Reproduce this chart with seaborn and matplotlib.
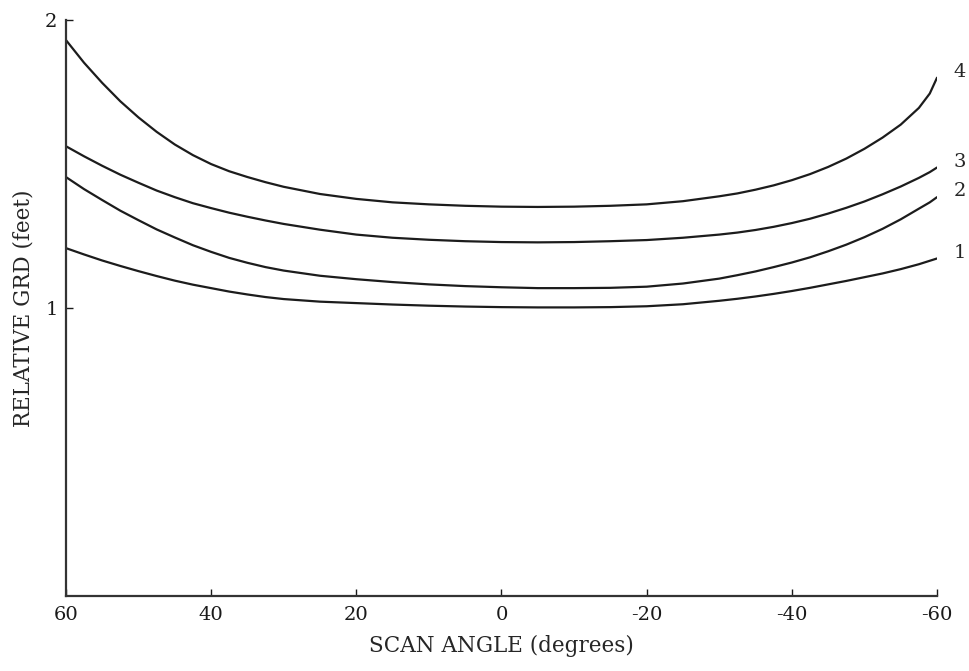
import numpy as np
import pandas as pd
import matplotlib
matplotlib.use("Agg")
import matplotlib.pyplot as plt
import seaborn as sns

angles = [60, 57.5, 55, 52.5, 50, 47.5, 45, 42.5, 40, 37.5, 35, 32.5, 30, 25, 20,
          15, 10, 5, 0, -5, -10, -15, -20, -25, -30, -32.5, -35, -37.5, -40,
          -42.5, -45, -47.5, -50, -52.5, -55, -57.5, -59, -60]

curve_1 = [1.208, 1.186, 1.165, 1.146, 1.128, 1.111, 1.095, 1.081, 1.069, 1.057,
           1.047, 1.038, 1.031, 1.022, 1.017, 1.012, 1.008, 1.005, 1.003, 1.002,
           1.002, 1.003, 1.006, 1.013, 1.025, 1.032, 1.040, 1.049, 1.059, 1.070,
           1.082, 1.094, 1.107, 1.120, 1.135, 1.152, 1.164, 1.172]
curve_2 = [1.455, 1.413, 1.375, 1.338, 1.305, 1.273, 1.245, 1.218, 1.195, 1.174,
           1.157, 1.142, 1.130, 1.112, 1.100, 1.090, 1.082, 1.076, 1.072, 1.069,
           1.069, 1.070, 1.074, 1.085, 1.102, 1.114, 1.127, 1.142, 1.158, 1.176,
           1.197, 1.220, 1.246, 1.275, 1.308, 1.345, 1.367, 1.385]
curve_3 = [1.562, 1.527, 1.494, 1.463, 1.435, 1.408, 1.385, 1.364, 1.347, 1.331,
           1.317, 1.304, 1.292, 1.272, 1.255, 1.244, 1.237, 1.232, 1.229, 1.228,
           1.229, 1.232, 1.236, 1.244, 1.255, 1.262, 1.271, 1.282, 1.295, 1.310,
           1.328, 1.348, 1.370, 1.395, 1.422, 1.452, 1.472, 1.488]
curve_4 = [1.931, 1.852, 1.782, 1.718, 1.662, 1.612, 1.568, 1.531, 1.500, 1.475,
           1.455, 1.437, 1.421, 1.396, 1.379, 1.367, 1.360, 1.355, 1.352, 1.351,
           1.352, 1.355, 1.360, 1.371, 1.388, 1.398, 1.411, 1.426, 1.444, 1.465,
           1.490, 1.519, 1.553, 1.592, 1.637, 1.695, 1.745, 1.800]

curve_names = ["1", "2", "3", "4"]
x_ticks = [60, 40, 20, 0, -20, -40, -60]
y_ticks = [1, 2]

rows = []
for name, vals in zip(curve_names, [curve_1, curve_2, curve_3, curve_4]):
    for a, v in zip(angles, vals):
        rows.append({"angle": a, "grd": v, "curve": name})
df = pd.DataFrame(rows)

sns.set_style("ticks")
plt.rcParams["font.family"] = ["DejaVu Serif"]

fig = plt.figure(figsize=(9.69, 6.71), dpi=100)
ax = fig.add_axes([0.068, 0.112, 0.899, 0.858])

sns.lineplot(data=df, x="angle", y="grd", hue="curve", units="curve",
             estimator=None, sort=False, palette=["#1c1c1c"] * 4,
             linewidth=1.6, legend=False, ax=ax)

ax.set_xlim(60, -60)
ax.set_ylim(0, 2)
ax.set_xticks(x_ticks)
ax.set_xticklabels([str(t) for t in x_ticks])
ax.set_yticks(y_ticks)
ax.set_yticklabels([str(t) for t in y_ticks])
ax.tick_params(direction="in", length=5, width=1, labelsize=14, colors="#1a1a1a")
ax.tick_params(axis="x", pad=7)
ax.tick_params(axis="y", pad=6)
for s in ["top", "right"]:
    ax.spines[s].set_visible(False)
for s in ["left", "bottom"]:
    ax.spines[s].set_linewidth(1.6)
    ax.spines[s].set_color("#333333")

ax.set_xlabel("SCAN ANGLE (degrees)", fontsize=15.5, labelpad=8)
ax.set_ylabel("RELATIVE GRD (feet)", fontsize=15.5, labelpad=8)

for name, vals in zip(curve_names, [curve_1, curve_2, curve_3, curve_4]):
    ax.text(-62.3, vals[-1] + 0.02, name, fontsize=14, ha="left", va="center",
            clip_on=False)

fig.savefig("out.png", dpi=100)
